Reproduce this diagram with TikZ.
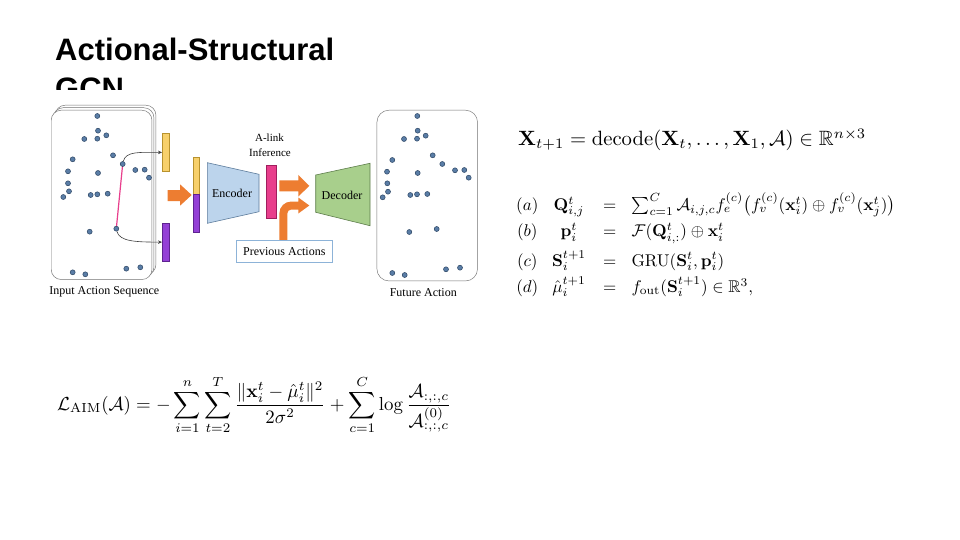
\documentclass[tikz,border=0pt]{standalone}
\usepackage[no-math]{fontspec}
\usepackage{amsmath,amssymb}
\usepackage{graphicx}
\newfontfamily\titlefont{Liberation Sans}
\newfontfamily\figfont{Liberation Serif}
\usetikzlibrary{arrows.meta}
\definecolor{dotfill}{HTML}{5A7DA6}
\definecolor{dotdraw}{HTML}{2C4563}
\definecolor{ybarc}{HTML}{F7D06B}
\definecolor{ybard}{HTML}{B8922E}
\definecolor{pbarc}{HTML}{9440D6}
\definecolor{pbard}{HTML}{5E2390}
\definecolor{orangec}{HTML}{ED7D31}
\definecolor{pinkc}{HTML}{E83E8C}
\definecolor{pinkd}{HTML}{A01E5E}
\definecolor{encc}{HTML}{BCD4EC}
\definecolor{encd}{HTML}{5D7C9C}
\definecolor{decc}{HTML}{A8CF8C}
\definecolor{decd}{HTML}{5E7E4C}
\definecolor{prevd}{HTML}{8DB3D8}
\tikzset{
  dotnode/.style={circle, fill=dotfill, draw=dotdraw, line width=0.5pt, minimum size=5pt, inner sep=0pt},
  framebox/.style={draw=black!55, line width=0.45pt, rounded corners=10pt, fill=white, inner sep=0pt, anchor=north west},
  ybar/.style={fill=ybarc, draw=ybard, line width=0.5pt, inner sep=0pt, anchor=north west, minimum width=6.7pt},
  pbar/.style={fill=pbarc, draw=pbard, line width=0.5pt, inner sep=0pt, anchor=north west, minimum width=6.7pt},
  thinarrow/.style={draw=black!75, line width=0.6pt, -{Stealth[length=4pt,width=3.5pt]}},
  figlabel/.style={font=\figfont\fontsize{12}{14}\selectfont, inner sep=0pt},
  titletext/.style={font=\titlefont\bfseries\fontsize{31}{38}\selectfont, anchor=base west, inner sep=0pt},
}
\begin{document}
\begin{tikzpicture}[x=1pt,y=-1pt]
\useasboundingbox (0,0) rectangle (960,540);
\fill[white] (0,0) rectangle (960,540);
% title
\node[titletext] (title1) at (55,61) {Actional-Structural};
\node[titletext] (title2) at (55,100) {GCN};
\fill[white] (44,90) rectangle (490,305);
% input frames
\node[framebox, minimum width=100.7pt, minimum height=169.3pt] (inback) at (55,105) {};
\node[framebox, minimum width=100.7pt, minimum height=169.3pt] (inmid) at (53,107.5) {};
\node[framebox, minimum width=100.7pt, minimum height=169.3pt] (inframe) at (51,110) {};
% pink link
\coordinate (pa) at (122.7,164);
\coordinate (pb) at (116.3,228.7);
\draw[pinkc, line width=1.2pt] (pa) -- (pb);
\foreach \x/\y [count=\i] in {97.3/116, 98/130.7, 84.3/139, 97.3/138.7, 106.3/135.3, 113/155.3, 72.7/159.3, 68/171.3, 98/173, 135.3/170, 144.7/169.7, 149/177.7, 68/183.3, 69/191.3, 63.3/197, 90.7/195, 97.3/194.3, 107.7/193.7, 89.7/231.7, 72.7/272.3, 85.3/274.3, 126.3/268.7, 140.3/267.3}
  \node[dotnode] (in\i) at (\x,\y) {};
\node[dotnode] (da) at (pa) {};
\node[dotnode] (db) at (pb) {};
% bars
\node[ybar, minimum height=37.7pt] (ybar) at (162,133.3) {};
\node[pbar, minimum height=37.7pt] (pbar) at (162,223) {};
\draw[thinarrow] (da) .. controls +(3,-13) and +(-22,0) .. (ybar.west);
\draw[thinarrow] (db) .. controls +(3,13) and +(-25,0) .. (pbar.west);
% orange arrow 1
\fill[orangec] (167.7,190) -- (180,190) -- (180,184.3) -- (191.7,195) -- (180,205.7) -- (180,201) -- (167.7,201) -- cycle;
% stacked bar
\node[ybar, minimum height=36.7pt] (sy) at (192.7,157.3) {};
\node[pbar, minimum height=37.7pt] (sp) at (192.7,194) {};
% encoder
\draw[fill=encc, draw=encd, line width=0.6pt] (207.3,162.7) -- (259,174.3) -- (259,211.7) -- (207.3,223.3) -- cycle;
\node[figlabel] (enc) at (232,193.5) {Encoder};
% A-link inference
\node[figlabel, font=\figfont\fontsize{11}{13}\selectfont] (alink) at (269.5,138) {A-link};
\node[figlabel, font=\figfont\fontsize{11}{13}\selectfont] (infer) at (270,152.5) {Inference};
\node[fill=pinkc, draw=pinkd, line width=0.5pt, inner sep=0pt, anchor=north west, minimum width=10.3pt, minimum height=53.3pt] (abar) at (265.7,165) {};
% orange arrow 2
\fill[orangec] (279.3,180.3) -- (298.3,180.3) -- (298.3,175) -- (309.3,185.8) -- (298.3,196.6) -- (298.3,191.3) -- (279.3,191.3) -- cycle;
% bent arrow
\fill[orangec] (279.3,240.7) -- (279.3,213.5) .. controls (279.3,206.9) and (284.7,201.5) .. (291.3,201.5) -- (298.3,201.5) -- (298.3,197.5) -- (309.3,205.5) -- (298.3,213.5) -- (298.3,209.5) -- (291.3,209.5) .. controls (289.1,209.5) and (287.3,211.3) .. (287.3,213.5) -- (287.3,240.7) -- cycle;
% decoder
\draw[fill=decc, draw=decd, line width=0.6pt] (315.7,175) -- (370,163.3) -- (370,225.7) -- (315.7,212.3) -- cycle;
\node[figlabel] (dec) at (342,195) {Decoder};
% previous actions
\node[draw=prevd, line width=0.6pt, minimum width=96.7pt, minimum height=22pt, inner sep=0pt, font=\figfont\fontsize{12}{14}\selectfont] (prev) at (284.3,251.7) {Previous Actions};
% future frame
\node[framebox, rounded corners=12pt, minimum width=100.6pt, minimum height=170.7pt] (outframe) at (376.7,110) {};
\foreach \x/\y [count=\i] in {417.3/116, 417.7/130.7, 404/139, 417/138.7, 425.7/135.7, 432.7/155.3, 392.3/160, 442.3/164, 387/171.7, 417.7/173, 455/170.3, 464.3/170, 468.7/177.7, 387.3/183.3, 388/191.7, 382.7/197.3, 410.3/195, 417/194.3, 427.3/194, 409.3/232, 436.7/229, 392.3/273, 404.7/275, 446/269.3, 460/267.7}
  \node[dotnode] (out\i) at (\x,\y) {};
% labels
\node[figlabel] (inlab) at (104.3,292.3) {Input Action Sequence};
\node[figlabel] (outlab) at (423.3,292.3) {Future Action};
% equations
\node[anchor=west, inner sep=0pt] (eqtop) at (518,140) {\resizebox{348pt}{!}{$\mathbf{X}_{t+1} = \mathrm{decode}(\mathbf{X}_t, \ldots, \mathbf{X}_1, \mathcal{A}) \in \mathbb{R}^{n\times 3}$}};
\node[anchor=north west, inner sep=0pt] (eqarr) at (516,192) {\resizebox{379pt}{!}{\renewcommand{\arraystretch}{1.28}$\begin{array}{@{}c@{\hspace{0.8em}}c@{\hspace{1em}}c@{\hspace{0.9em}}l@{}}
(a) & \mathbf{Q}^t_{i,j} & = & \sum_{c=1}^{C} \mathcal{A}_{i,j,c} f_e^{(c)}\big(f_v^{(c)}(\mathbf{x}^t_i) \oplus f_v^{(c)}(\mathbf{x}^t_j)\big)\\
(b) & \mathbf{p}^t_i & = & \mathcal{F}(\mathbf{Q}^t_{i,:}) \oplus \mathbf{x}^t_i\\[2pt]
(c) & \mathbf{S}^{t+1}_i & = & \mathrm{GRU}(\mathbf{S}^t_i, \mathbf{p}^t_i)\\
(d) & \hat{\mu}^{t+1}_i & = & f_{\mathrm{out}}(\mathbf{S}^{t+1}_i) \in \mathbb{R}^3,
\end{array}$}};
\node[anchor=west, inner sep=0pt] (eqloss) at (57,405) {\resizebox{394pt}{!}{$\displaystyle \mathcal{L}_{\mathrm{AIM}}(\mathcal{A}) = -\sum_{i=1}^{n}\sum_{t=2}^{T} \frac{\|\mathbf{x}^t_i - \hat{\mu}^t_i\|^2}{2\sigma^2} + \sum_{c=1}^{C} \log \frac{\mathcal{A}_{:,:,c}}{\mathcal{A}^{(0)}_{:,:,c}}$}};
\end{tikzpicture}
\end{document}
